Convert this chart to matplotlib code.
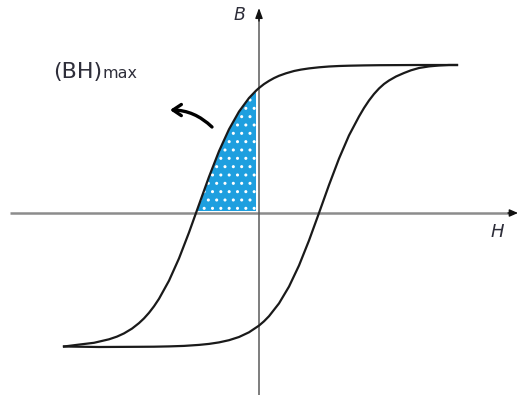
import numpy as np
import matplotlib
matplotlib.use("Agg")
import matplotlib.pyplot as plt

# Hysteresis loop of a permanent magnet (H horizontal, B vertical)
# Upper (demagnetising) branch
H_upper = [-195, -180, -165, -150, -142, -135, -127, -120, -115, -110, -105,
           -100, -90, -80, -70, -60, -50, -40, -30, -20, -10, -3, 0, 5, 10,
           15, 20, 27, 35, 42, 50, 60, 70, 80, 90, 105, 120, 160, 198]
B_upper = [-133.5, -131.6, -129.8, -126.3, -123.6, -120.4, -115.6, -110.1,
           -105.4, -99.8, -93.3, -85.8, -67.7, -45.4, -19.5, 8.4, 36.2, 61.8,
           83.7, 101.4, 115.0, 122.3, 125.0, 128.9, 132.1, 134.9, 137.2,
           139.7, 142.0, 143.4, 144.6, 145.7, 146.5, 147.0, 147.3, 147.6,
           147.8, 148.0, 148.0]

# Lower (magnetising) branch
H_lower = [-195, -160, -140, -120, -105, -90, -75, -60, -50, -40, -30, -20,
           -10, 0, 5, 10, 20, 30, 40, 50, 60, 70, 80, 90, 100, 105, 110, 115,
           120, 125, 130, 137, 145, 152, 160, 170, 180, 190, 198]
B_lower = [-133.5, -134, -133.9, -133.8, -133.7, -133.4, -132.9, -131.9,
           -130.9, -129.4, -127.2, -124.0, -119.3, -112.6, -108.3, -103.2,
           -90.4, -73.6, -52.5, -27.5, 0, 28.0, 54.4, 77.6, 96.5, 105, 112.5,
           119, 124.5, 129, 132.5, 136.5, 140, 142.7, 145, 146.6, 147.5, 148,
           148]

# Second-quadrant region marking the (BH)max operating area
fill_H_right = -3
fill_B_bottom = 2

label_bhmax = "(BH)"
label_bhmax_sub = "max"
label_B = "B"
label_H = "H"

fig = plt.figure(figsize=(5.18, 3.98), dpi=100)
ax = fig.add_axes([0, 0, 1, 1])
ax.set_xlim(-259, 259)
ax.set_ylim(-185, 213)
ax.axis("off")

Hu = np.array(H_upper, dtype=float)
Bu = np.array(B_upper, dtype=float)
Hl = np.array(H_lower, dtype=float)
Bl = np.array(B_lower, dtype=float)

# shaded area between the upper branch and the axes
mask = (Bu >= fill_B_bottom) & (Hu <= fill_H_right)
plt.rcParams["hatch.linewidth"] = 1.0
ax.fill_between(Hu, fill_B_bottom, Bu, where=mask, interpolate=True,
                facecolor="#1E9FDF", edgecolor="white", hatch="..",
                linewidth=0, zorder=1)

# coordinate axes
ax.plot([-249, 252], [0, 0], color="#8c8c8c", lw=1.8, zorder=2,
        solid_capstyle="butt")
ax.annotate("", xy=(259, 0), xytext=(249, 0),
            arrowprops=dict(arrowstyle="-|>,head_length=0.5,head_width=0.22",
                            color="#111111", lw=1.0, shrinkA=0, shrinkB=0),
            zorder=3)
ax.plot([0, 0], [-182, 196], color="#5a5a5a", lw=1.1, zorder=2,
        solid_capstyle="butt")
ax.annotate("", xy=(0, 205), xytext=(0, 192),
            arrowprops=dict(arrowstyle="-|>,head_length=0.6,head_width=0.22",
                            color="#111111", lw=1.0, shrinkA=0, shrinkB=0),
            zorder=3)

# loop branches
ax.plot(Hu, Bu, color="#1a1a1a", lw=1.6, zorder=4, solid_joinstyle="round")
ax.plot(Hl, Bl, color="#1a1a1a", lw=1.6, zorder=4, solid_joinstyle="round")

# curved pointer toward the label
ax.annotate("", xy=(-89, 103), xytext=(-47, 86),
            arrowprops=dict(arrowstyle="->,head_length=0.6,head_width=0.4",
                            connectionstyle="arc3,rad=0.2", lw=2.4,
                            color="black", shrinkA=0, shrinkB=0))

# labels
ax.text(-206, 135, label_bhmax, fontsize=16, family="DejaVu Sans",
        color="#2e2e3a", ha="left", va="baseline")
ax.text(-157, 135, label_bhmax_sub, fontsize=11.5, family="DejaVu Sans",
        color="#2e2e3a", ha="left", va="baseline")
ax.text(-20, 198, label_B, fontsize=12.5, family="DejaVu Sans",
        style="italic", color="#2e2e3a", ha="center", va="center")
ax.text(238, -19, label_H, fontsize=13, family="DejaVu Sans",
        style="italic", color="#2e2e3a", ha="center", va="center")

fig.savefig("out.png", dpi=100, facecolor="white")
